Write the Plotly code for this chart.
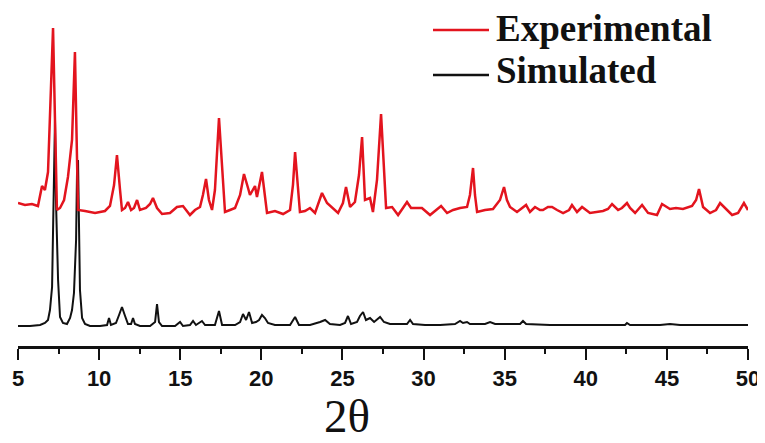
import plotly.graph_objects as go

# ---------------- data ----------------
exp_two_theta = [5.00, 5.43, 5.86, 6.23, 6.48, 6.66, 6.85, 7.03, 7.16, 7.28, 7.40, 7.59, 7.84, 8.08, 8.33,
                 8.51, 8.64, 8.70, 9.13, 9.75, 10.36, 10.67, 10.92, 11.10, 11.29, 11.41, 11.60, 11.78, 11.97,
                 12.15, 12.34, 12.52, 12.89, 13.14, 13.32, 13.57, 13.88, 14.37, 14.80, 15.17, 15.60, 15.91,
                 16.22, 16.40, 16.59, 16.77, 16.96, 17.14, 17.39, 17.58, 17.76, 18.07, 18.38, 18.69, 18.93,
                 19.18, 19.30, 19.61, 19.73, 20.04, 20.22, 20.35, 20.84, 21.34, 21.77, 21.95, 22.08, 22.26,
                 22.38, 22.69, 23.00, 23.31, 23.56, 23.74, 24.05, 24.36, 24.73, 25.03, 25.22, 25.47, 25.77,
                 26.02, 26.21, 26.39, 26.70, 26.88, 27.13, 27.38, 27.56, 27.69, 28.06, 28.43, 28.73, 28.98,
                 29.23, 29.47, 29.90, 30.40, 30.77, 31.08, 31.45, 31.82, 32.25, 32.68, 32.86, 33.05, 33.17,
                 33.30, 33.79, 34.28, 34.71, 34.96, 35.14, 35.33, 35.76, 36.07, 36.32, 36.56, 36.87, 37.18,
                 37.36, 37.67, 37.92, 38.23, 38.60, 38.97, 39.15, 39.46, 39.77, 40.26, 40.63, 41.06, 41.37,
                 41.62, 41.99, 42.23, 42.54, 42.73, 43.04, 43.22, 43.47, 43.84, 44.39, 44.70, 45.19, 45.56,
                 45.99, 46.55, 46.80, 46.98, 47.23, 47.66, 48.03, 48.28, 48.71, 49.02, 49.39, 49.75, 50.00]
exp_intensity = [9, 7, 8, 6, 26, 22, 40, 115, 184, 92, 2, 4, 12, 35, 72,
                 160, 62, 2, 1, -1, 1, 6, 27, 57, 22, 2, 4, 10, 2,
                 4, 12, 2, 4, 8, 14, 4, -2, -1, 5, 6, -3, 2,
                 5, 17, 33, 12, 2, 22, 94, 42, 0, 2, 4, 17, 38,
                 24, 17, 26, 15, 40, 17, -1, 1, -2, 2, 27, 60, 22,
                 0, 1, 4, -1, 12, 19, 9, 4, -1, 9, 25, 5, 10,
                 37, 75, 12, 14, 0, 32, 98, 42, 4, 5, -3, 4, 10,
                 4, 4, 4, -3, 2, 6, -1, 2, 4, 5, 17, 44, 17,
                 0, 2, 3, 12, 25, 12, 5, 0, 4, 7, 0, 5, 2,
                 2, 5, 5, 2, -1, 2, 7, 0, 5, -1, 0, 1, 3,
                 8, 2, 4, 9, 4, -1, 2, 7, -1, -3, 8, 3, 4,
                 3, 6, 12, 23, 5, -1, 2, 9, 2, -3, -1, 9, 2]

sim_two_theta = [5.00, 5.74, 6.36, 6.66, 6.85, 6.97, 7.10, 7.16, 7.22, 7.28, 7.34, 7.40, 7.47, 7.59, 7.77,
                 8.02, 8.21, 8.33, 8.45, 8.58, 8.64, 8.70, 8.76, 8.82, 8.95, 9.13, 9.44, 10.06, 10.49,
                 10.61, 10.73, 11.04, 11.23, 11.41, 11.60, 11.78, 11.97, 12.09, 12.21, 12.52, 13.14, 13.45,
                 13.57, 13.69, 13.88, 14.68, 14.99, 15.17, 15.60, 15.79, 15.97, 16.34, 16.53, 17.14, 17.39,
                 17.58, 18.38, 18.69, 18.87, 19.06, 19.24, 19.43, 19.67, 19.86, 20.04, 20.22, 20.41, 20.84,
                 21.77, 22.08, 22.32, 23.00, 23.62, 23.93, 24.23, 24.85, 25.16, 25.34, 25.53, 25.90, 26.08,
                 26.27, 26.45, 26.70, 26.95, 27.13, 27.32, 27.56, 27.93, 28.55, 28.98, 29.17, 29.35, 30.09,
                 31.02, 31.94, 32.25, 32.43, 32.68, 32.86, 33.79, 34.10, 34.41, 35.02, 35.95, 36.13, 36.32,
                 37.80, 39.03, 40.88, 42.42, 42.54, 42.73, 44.58, 45.19, 45.81, 47.66, 50.00]
sim_intensity = [0, 0, 1, 3, 6, 16, 39, 86, 166, 206, 126, 86, 46, 9, 3,
                 2, 8, 16, 33, 86, 156, 166, 116, 36, 8, 2, 0, 0, 1,
                 8, 1, 3, 11, 19, 10, 2, 2, 8, 2, 0, 0, 4,
                 22, 4, 0, 0, 4, 0, 1, 5, 1, 5, 1, 1, 15,
                 1, 1, 4, 12, 6, 14, 3, 4, 6, 11, 8, 3, 1,
                 1, 9, 1, 1, 4, 6, 2, 1, 3, 10, 2, 4, 10,
                 14, 6, 8, 4, 6, 9, 4, 2, 2, 2, 6, 2, 1,
                 1, 2, 5, 3, 4, 2, 2, 4, 2, 2, 2, 5, 2,
                 1, 1, 1, 1, 3, 1, 1, 2, 1, 1, 1]

series_names = ["Experimental", "Simulated"]
x_ticks = [5, 10, 15, 20, 25, 30, 35, 40, 45, 50]
x_title = "2θ"

# ---------------- styling / layout ----------------
RED = "#e3141e"
BLACK = "#111111"
EXP_OFFSET = 114          # vertical stacking offset of the experimental pattern

PAGE_PAD = 8              # default <body> margin of the written html page
W, H = 765 - PAGE_PAD, 443 - PAGE_PAD
# plot area in page pixels: x 18..748, y 10..346
PX_L, PX_R, PY_T, PY_B = 18, 748, 10, 346
M_L = PX_L - PAGE_PAD
M_R = W - (PX_R - PAGE_PAD)
M_T = PY_T - PAGE_PAD
M_B = H - (PY_B - PAGE_PAD)
PLOT_H = PY_B - PY_T


def ypaper(py):
    """page pixel row -> paper coordinate"""
    return (PY_B - py) / PLOT_H


def xpaper(px):
    return (px - PX_L) / (PX_R - PX_L)


fig = go.Figure()
fig.add_trace(go.Scatter(x=sim_two_theta, y=sim_intensity, mode="lines",
                         line=dict(color=BLACK, width=2), name=series_names[1],
                         showlegend=False))
fig.add_trace(go.Scatter(x=exp_two_theta, y=[v + EXP_OFFSET for v in exp_intensity], mode="lines",
                         line=dict(color=RED, width=2.5), name=series_names[0],
                         showlegend=False))

# custom legend
legend_rows = [(series_names[0], RED, 30, 28), (series_names[1], BLACK, 75, 70)]
for name, col, line_py, text_py in legend_rows:
    fig.add_shape(type="line", xref="paper", yref="paper",
                  x0=xpaper(433), x1=xpaper(489), y0=ypaper(line_py), y1=ypaper(line_py),
                  line=dict(color=col, width=2.5))
    fig.add_annotation(text=name, xref="paper", yref="paper",
                       x=xpaper(494), y=ypaper(text_py), xanchor="left", yanchor="middle",
                       showarrow=False,
                       font=dict(family="Liberation Serif, Times New Roman, serif", size=37,
                                 color="#111111", weight="bold"))

# axis title as annotation (sits left of center in the reference)
fig.add_annotation(text=x_title, xref="paper", yref="paper",
                   x=xpaper(347), y=ypaper(416), xanchor="center", yanchor="middle",
                   showarrow=False,
                   font=dict(family="Liberation Serif, Times New Roman, serif", size=47, color="#111111"))

fig.update_layout(
    width=W, height=H,
    margin=dict(l=M_L, r=M_R, t=M_T, b=M_B, autoexpand=False),
    paper_bgcolor="white", plot_bgcolor="white",
    showlegend=False,
)
fig.update_xaxes(range=[5, 50], tickmode="array", tickvals=x_ticks,
                 ticktext=[str(t) for t in x_ticks],
                 showline=True, linecolor="#111111", linewidth=2.5,
                 ticks="outside", ticklen=11, tickwidth=2.2, tickcolor="#111111",
                 minor=dict(tickmode="linear", tick0=7.5, dtick=5, ticks="outside",
                            ticklen=5, tickwidth=2, tickcolor="#111111"),
                 showgrid=False, zeroline=False, automargin=False,
                 tickfont=dict(family="Liberation Sans, Arial, sans-serif", size=22,
                               color="#111111", weight="bold"))
fig.update_yaxes(range=[-20, PLOT_H - 20], visible=False, showgrid=False, zeroline=False)

fig.write_html("out.html")
